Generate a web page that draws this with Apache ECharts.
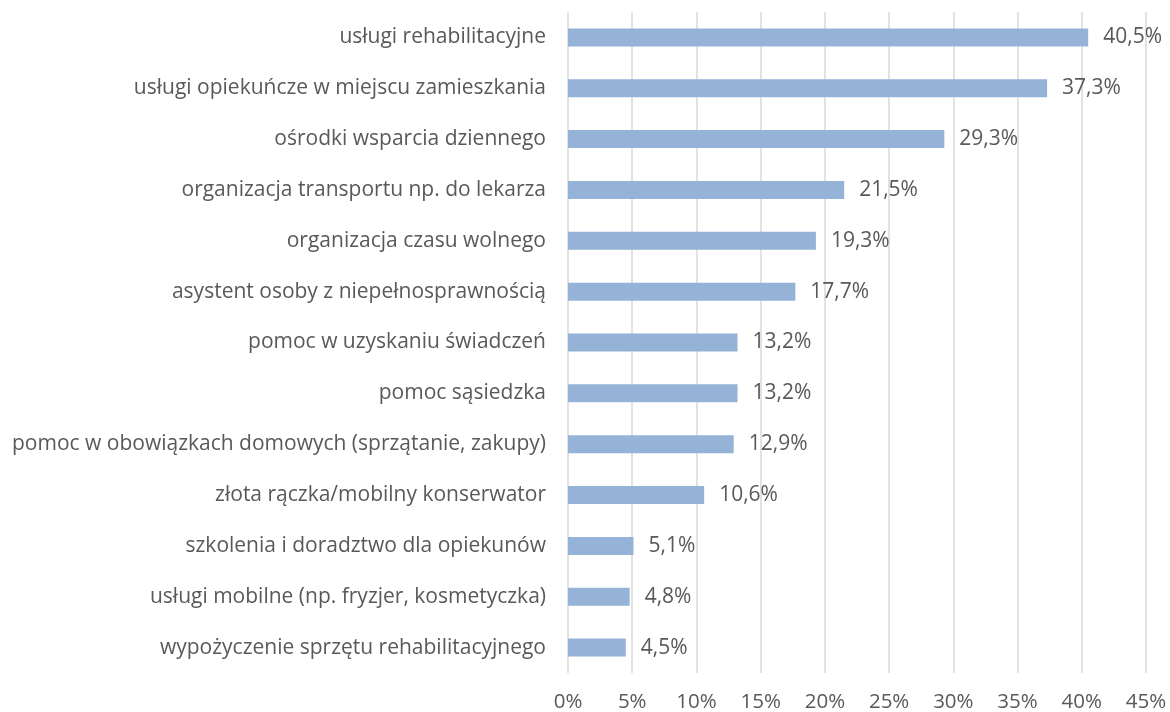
<!DOCTYPE html>
<html>
<head>
<meta charset="utf-8">
<script src="https://cdn.jsdelivr.net/npm/echarts@6/dist/echarts.min.js"></script>
<style>
  html, body { margin: 0; padding: 0; background: #fff; }
  #chart { width: 1170px; height: 712px; }
</style>
</head>
<body>
<div id="chart"></div>
<script>
  // categories listed top to bottom
  const categories = [
    'usługi rehabilitacyjne',
    'usługi opiekuńcze w miejscu zamieszkania',
    'ośrodki wsparcia dziennego',
    'organizacja transportu np. do lekarza',
    'organizacja czasu wolnego',
    'asystent osoby z niepełnosprawnością',
    'pomoc w uzyskaniu świadczeń',
    'pomoc sąsiedzka',
    'pomoc w obowiązkach domowych (sprzątanie, zakupy)',
    'złota rączka/mobilny konserwator',
    'szkolenia i doradztwo dla opiekunów',
    'usługi mobilne (np. fryzjer, kosmetyczka)',
    'wypożyczenie sprzętu rehabilitacyjnego'
  ]
  const values = [40.5, 37.3, 29.3, 21.5, 19.3, 17.7, 13.2, 13.2, 12.9, 10.6, 5.1, 4.8, 4.5]

  const fontFamily = 'Open Sans, Noto Sans, sans-serif'
  const textColor = '#595959'

  const chart = echarts.init(document.getElementById('chart'))
  chart.setOption({
    animation: false,
    grid: {
      left: 568,
      right: 24,
      top: 12,
      bottom: 39,
      outerBoundsMode: 'none',
    },
    xAxis: {
      type: 'value',
      min: 0,
      max: 45,
      interval: 5,
      axisLine: { show: false },
      axisTick: { show: false },
      axisLabel: {
        formatter: '{value}%',
        color: textColor,
        fontSize: 20.5,
        fontFamily: fontFamily,
        margin: 19,
      },
      splitLine: {
        lineStyle: { color: '#d9d9d9', width: 1.5 },
      },
    },
    yAxis: {
      type: 'category',
      inverse: true,
      data: categories,
      axisLine: { show: false },
      axisTick: { show: false },
      axisLabel: {
        color: textColor,
        fontSize: 21,
        fontFamily: fontFamily,
        margin: 22,
      },
    },
    series: [
      {
        type: 'bar',
        data: values,
        barWidth: 18,
        itemStyle: {
          color: '#95b3d7',
        },
        label: {
          show: true,
          position: 'right',
          distance: 15,
          color: textColor,
          fontSize: 21,
          fontFamily: fontFamily,
          formatter: (p) => p.value.toFixed(1).replace('.', ',') + '%',
        },
      },
    ],
  })
</script>
</body>
</html>
